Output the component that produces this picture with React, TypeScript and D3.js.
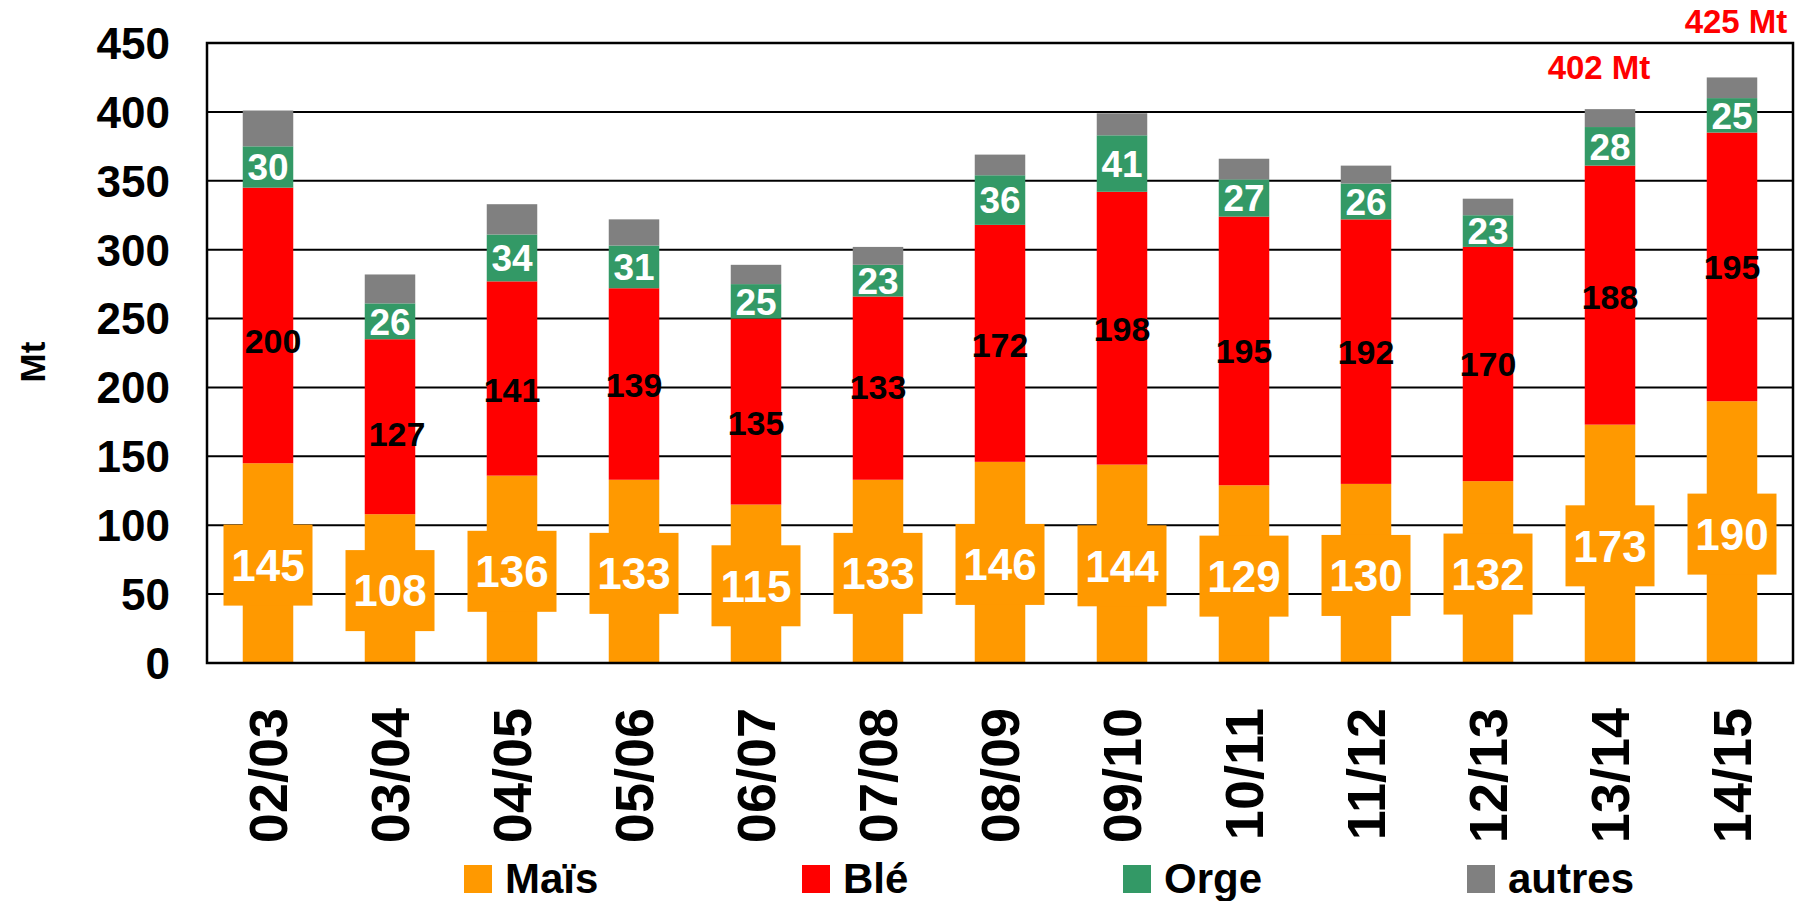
import React from 'react'
import * as d3 from 'd3'

// campagnes
const seasons = ['02/03', '03/04', '04/05', '05/06', '06/07', '07/08', '08/09', '09/10', '10/11', '11/12', '12/13', '13/14', '14/15']
// production in Mt
const mais = [145, 108, 136, 133, 115, 133, 146, 144, 129, 130, 132, 173, 190]
const ble = [200, 127, 141, 139, 135, 133, 172, 198, 195, 192, 170, 188, 195]
const orge = [30, 26, 34, 31, 25, 23, 36, 41, 27, 26, 23, 28, 25]
const autres = [26, 21, 22, 19, 14, 13, 15, 16, 15, 13, 12, 13, 15]

const yTicks = [0, 50, 100, 150, 200, 250, 300, 350, 400, 450]
const seriesNames = ['Maïs', 'Blé', 'Orge', 'autres']
const totalNotes = [
  { season: '13/14', text: '402 Mt', dx: -11, dy: -30 },
  { season: '14/15', text: '425 Mt', dx: 4, dy: -44 },
]

const colors = ['#FF9900', '#FF0000', '#339966', '#808080']
const font = '"Liberation Sans", Arial, sans-serif'

const W = 1802
const H = 901
const margin = { top: 43, right: 9, bottom: 238, left: 207 }
// hand-moved Blé labels in the original (px)
const bleNudge = [[5, 15], [7, 7], [0, 11], [0, 1], [0, 11], [0, -1], [0, 1], [0, 1], [0, 0], [0, 0], [0, 0], [0, 2], [0, 0]]

export default function App() {
  const rows = seasons.map((s, i) => ({
    season: s,
    mais: mais[i],
    ble: ble[i],
    orge: orge[i],
    autres: autres[i],
  }))
  const keys = ['mais', 'ble', 'orge', 'autres']
  const stacked = d3.stack<any>().keys(keys)(rows)

  const x = d3.scaleBand()
    .domain(seasons)
    .range([margin.left, W - margin.right])
    .padding(0)
  const y = d3.scaleLinear()
    .domain([0, 450])
    .range([H - margin.bottom, margin.top])

  const barW = x.bandwidth() * 0.414
  const cx = (s: string) => (x(s) as number) + x.bandwidth() / 2

  const legendX = [464, 802, 1123, 1467]

  return (
    <svg width={W} height={H} style={{ position: 'absolute', left: 0, top: 0, background: '#fff' }} fontFamily={font}>
      {/* gridlines */}
      {yTicks.slice(1, -1).map((t) => (
        <line key={t} x1={margin.left} x2={W - margin.right} y1={y(t)} y2={y(t)} stroke="#000" strokeWidth={2} />
      ))}

      {/* stacked bars */}
      {stacked.map((layer, li) => (
        <g key={layer.key} fill={colors[li]}>
          {layer.map((d: any) => (
            <rect
              key={d.data.season}
              x={cx(d.data.season) - barW / 2}
              y={y(d[1])}
              width={barW}
              height={y(d[0]) - y(d[1])}
            />
          ))}
        </g>
      ))}

      {/* axes frame */}
      <rect
        x={margin.left}
        y={margin.top}
        width={W - margin.left - margin.right}
        height={H - margin.top - margin.bottom}
        fill="none"
        stroke="#000"
        strokeWidth={2.5}
      />

      {/* Maïs labels with orange boxes */}
      {stacked[0].map((d: any) => {
        const my = y((d[0] + d[1]) / 2) + 2
        return (
          <g key={'m' + d.data.season}>
            <rect x={cx(d.data.season) - 44.5} y={my - 40.5} width={89} height={81} fill={colors[0]} />
            <text x={cx(d.data.season)} y={my} dy="0.36em" textAnchor="middle" fill="#fff" fontSize={44} fontWeight="bold">
              {d.data.mais}
            </text>
          </g>
        )
      })}

      {/* Blé labels */}
      {stacked[1].map((d: any, i: number) => (
        <text
          key={'b' + d.data.season}
          x={cx(d.data.season) + bleNudge[i][0]}
          y={y((d[0] + d[1]) / 2) + bleNudge[i][1]}
          dy="0.36em"
          textAnchor="middle"
          fill="#000"
          fontSize={34}
          fontWeight="bold"
        >
          {d.data.ble}
        </text>
      ))}

      {/* Orge labels */}
      {stacked[2].map((d: any) => (
        <text
          key={'o' + d.data.season}
          x={cx(d.data.season)}
          y={y((d[0] + d[1]) / 2)}
          dy="0.36em"
          textAnchor="middle"
          fill="#fff"
          fontSize={37}
          fontWeight="bold"
        >
          {d.data.orge}
        </text>
      ))}

      {/* totals */}
      {totalNotes.map((n) => {
        const i = seasons.indexOf(n.season)
        const total = mais[i] + ble[i] + orge[i] + autres[i]
        return (
          <text key={n.text} x={cx(n.season) + n.dx} y={y(total) + n.dy} textAnchor="middle" fill="#FF0000" fontSize={33} fontWeight="bold">
            {n.text}
          </text>
        )
      })}

      {/* y axis labels */}
      {yTicks.map((t) => (
        <text key={t} x={170} y={y(t)} dy="0.36em" textAnchor="end" fontSize={44} fontWeight="bold">
          {t}
        </text>
      ))}
      <text transform={`translate(45, ${362}) rotate(-90)`} textAnchor="middle" fontSize={35} fontWeight="bold">
        Mt
      </text>

      {/* x axis labels */}
      {seasons.map((s) => (
        <text
          key={s}
          transform={`translate(${cx(s)}, ${708}) rotate(-90)`}
          dy="0.35em"
          textAnchor="end"
          fontSize={54}
          fontWeight="bold"
        >
          {s}
        </text>
      ))}

      {/* legend */}
      {seriesNames.map((name, i) => (
        <g key={name} transform={`translate(${legendX[i]}, 865)`}>
          <rect width={28} height={28} fill={colors[i]} />
          <text x={41} y={28} fontSize={42} fontWeight="bold">
            {name}
          </text>
        </g>
      ))}
    </svg>
  )
}
